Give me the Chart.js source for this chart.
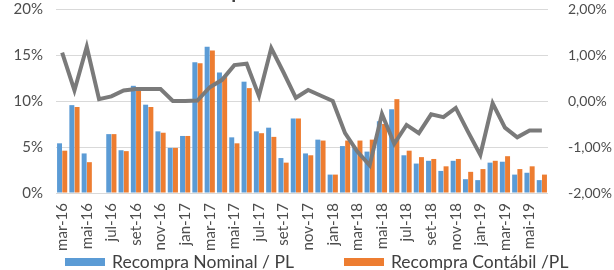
<!DOCTYPE html>
<html>
<head>
<meta charset="utf-8">
<script src="https://cdn.jsdelivr.net/npm/chart.js@4.4.0/dist/chart.umd.min.js"></script>
<style>
  html, body { margin: 0; padding: 0; background: #fff; overflow: hidden; }
  body { width: 614px; height: 270px; position: relative; font-family: Lato, sans-serif; }
  #wrap { position: absolute; left: 0; top: -20px; width: 614px; height: 274px; }
  #legend { position: absolute; left: 65px; top: 251px; display: flex; align-items: center; color: #404040; font-size: 17.5px; white-space: nowrap; }
  #legend .item { display: flex; align-items: center; margin-right: 50px; }
  #legend .sw { width: 40px; height: 8px; margin-right: 7px; }
</style>
</head>
<body>
<div id="wrap"><canvas id="chart"></canvas></div>
<div id="legend"></div>
<script>
// Dados
const meses = ['mar-16','abr-16','mai-16','jun-16','jul-16','ago-16','set-16','out-16','nov-16','dez-16',
  'jan-17','fev-17','mar-17','abr-17','mai-17','jun-17','jul-17','ago-17','set-17','out-17','nov-17','dez-17',
  'jan-18','fev-18','mar-18','abr-18','mai-18','jun-18','jul-18','ago-18','set-18','out-18','nov-18','dez-18',
  'jan-19','fev-19','mar-19','abr-19','mai-19','jun-19'];
const recompraNominal = [5.4, 9.55, 4.3, null, 6.4, 4.65, 11.65, 9.6, 6.7, 4.9,
  6.2, 14.2, 15.9, 13.1, 6.05, 12.1, 6.7, 7.1, 3.8, 8.1, 4.3, 5.8,
  2.0, 5.1, 5.0, 4.5, 7.8, 9.1, 4.1, 3.2, 3.5, 2.4, 3.5, 1.5,
  1.4, 3.3, 3.4, 2.0, 2.2, 1.4];
const recompraContabil = [4.6, 9.35, 3.35, null, 6.4, 4.55, 11.45, 9.35, 6.55, 4.9,
  6.2, 14.1, 15.5, 12.6, 5.4, 11.4, 6.5, 6.1, 3.3, 8.1, 4.1, 5.7,
  2.0, 5.7, 5.7, 5.8, 7.5, 10.2, 4.6, 3.9, 3.7, 2.9, 3.7, 2.3,
  2.6, 3.5, 4.0, 2.6, 2.9, 2.0];
const diferenca = [1.05, 0.23, 1.18, 0.04, 0.10, 0.23, 0.26, 0.26, 0.26, 0.0,
  0.0, 0.01, 0.30, 0.46, 0.78, 0.81, 0.11, 1.15, 0.62, 0.07, 0.24, 0.12,
  0.0, -0.7, -1.1, -1.4, -0.28, -0.93, -0.52, -0.7, -0.29, -0.35, -0.15, -0.67,
  -1.17, -0.05, -0.58, -0.79, -0.64, -0.64];

const AZUL = '#5B9BD5';
const LARANJA = '#ED7D31';
const CINZA = '#7A7A7A';
const corTexto = '#4D4D4D';

// Legenda (HTML)
const legend = document.getElementById('legend');
[['Recompra Nominal / PL', AZUL], ['Recompra Contábil /PL', LARANJA]].forEach(([txt, cor]) => {
  const it = document.createElement('div');
  it.className = 'item';
  it.innerHTML = `<span class="sw" style="background:${cor}"></span><span>${txt}</span>`;
  legend.appendChild(it);
});

const ctx = document.getElementById('chart').getContext('2d');
new Chart(ctx, {
  data: {
    labels: meses,
    datasets: [
      { type: 'line', label: 'Diferença', data: diferenca, yAxisID: 'y1', borderColor: CINZA, borderWidth: 4,
        pointRadius: 0, tension: 0, order: 0 },
      { type: 'bar', label: 'Recompra Nominal / PL', data: recompraNominal, backgroundColor: AZUL, yAxisID: 'y',
        categoryPercentage: 0.85, barPercentage: 0.95, order: 1 },
      { type: 'bar', label: 'Recompra Contábil /PL', data: recompraContabil, backgroundColor: LARANJA, yAxisID: 'y',
        categoryPercentage: 0.85, barPercentage: 0.95, order: 1 }
    ]
  },
  options: {
    responsive: true,
    maintainAspectRatio: false,
    animation: false,
    layout: { padding: 0 },
    plugins: {
      legend: { display: false },
      tooltip: { enabled: false },
      title: {
        display: true,
        text: 'Recompra Nominal vs Contábil',
        color: '#404040',
        font: { family: 'Lato', size: 20, weight: 'bold', lineHeight: 1.2 },
        padding: { top: 0, bottom: 5 }
      }
    },
    scales: {
      x: {
        grid: { display: false },
        border: { display: false },
        afterFit: s => { s.height = 61; },
        ticks: {
          autoSkip: false, maxRotation: 90, minRotation: 90, padding: 2,
          color: corTexto, font: { family: 'Lato', size: 15 },
          callback: function (v, i) { return i % 2 === 0 ? this.getLabelForValue(v) : ''; }
        }
      },
      y: {
        position: 'left', min: 0, max: 20,
        grid: { color: '#D9D9D9', drawTicks: false },
        border: { display: false },
        afterFit: s => { s.width = 56; },
        ticks: { stepSize: 5, padding: 13, color: corTexto, font: { family: 'Lato', size: 15 },
          callback: v => v + '%' }
      },
      y1: {
        position: 'right', min: -2, max: 2,
        grid: { display: false },
        border: { display: false },
        afterFit: s => { s.width = 66; },
        ticks: { stepSize: 1, padding: 12, color: corTexto, font: { family: 'Lato', size: 14 },
          callback: v => v.toFixed(2).replace('.', ',') + '%' }
      }
    }
  }
});
</script>
</body>
</html>
